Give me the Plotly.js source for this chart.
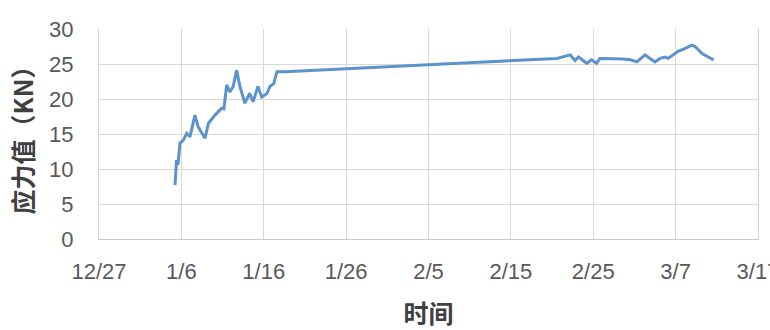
<!DOCTYPE html>
<html>
<head>
<meta charset="utf-8">
<script src="https://cdn.plot.ly/plotly-3.0.1.min.js"></script>
<style>
  html, body { margin: 0; padding: 0; background: #fff; }
  #chart { width: 770px; height: 330px; }
</style>
</head>
<body>
<div id="chart"></div>
<script>
// Measured stress readings over time (kN)
const times = [
  '2019-01-05 05:30', '2019-01-05 08:00', '2019-01-05 10:00', '2019-01-05 14:00',
  '2019-01-05 20:00', '2019-01-06 05:30', '2019-01-06 15:30', '2019-01-07 01:00',
  '2019-01-07 15:30', '2019-01-08 01:00', '2019-01-08 21:00', '2019-01-09 06:30',
  '2019-01-10 02:00', '2019-01-10 21:30', '2019-01-11 04:00', '2019-01-11 12:00',
  '2019-01-11 21:30', '2019-01-12 07:00', '2019-01-12 17:00', '2019-01-13 02:30',
  '2019-01-13 17:00', '2019-01-14 07:00', '2019-01-14 17:00', '2019-01-15 07:00',
  '2019-01-15 18:00', '2019-01-16 09:30', '2019-01-16 18:00', '2019-01-17 05:00',
  '2019-01-17 14:30', '2019-01-18 14:30', '2019-02-20 13:30', '2019-02-22 05:00',
  '2019-02-22 19:00', '2019-02-23 05:00', '2019-02-23 14:30', '2019-02-24 05:00',
  '2019-02-24 19:00', '2019-02-25 09:30', '2019-02-25 19:00', '2019-02-26 14:30',
  '2019-02-28 15:30', '2019-03-01 12:00', '2019-03-02 07:00', '2019-03-03 07:00',
  '2019-03-03 21:30', '2019-03-04 12:00', '2019-03-05 02:30', '2019-03-05 17:00',
  '2019-03-06 02:30', '2019-03-06 17:00', '2019-03-07 07:00', '2019-03-08 02:30',
  '2019-03-08 23:00', '2019-03-09 08:30', '2019-03-10 05:00', '2019-03-10 23:00',
  '2019-03-11 14:30'
];
const stress = [
  7.7, 9.4, 11.3, 10.6,
  13.7, 14.1, 15.1, 14.6,
  17.7, 16.0, 14.4, 16.5,
  17.7, 18.7, 18.6, 22.0,
  21.0, 21.8, 24.1, 21.8,
  19.4, 20.8, 19.6, 21.8,
  20.3, 20.8, 21.8, 22.2,
  23.9, 23.9, 25.8, 26.3,
  25.5, 26.0, 25.6, 25.1,
  25.6, 25.1, 25.8, 25.8,
  25.7, 25.6, 25.3, 26.3,
  25.8, 25.3, 25.8, 26.0,
  25.8, 26.3, 26.8, 27.2,
  27.7, 27.5, 26.5, 26.0,
  25.6
];

// Date axis ticks, every 10 days
const tickDates = ['2018-12-27', '2019-01-06', '2019-01-16', '2019-01-26', '2019-02-05',
                   '2019-02-15', '2019-02-25', '2019-03-07', '2019-03-17'];
const tickLabels = ['12/27', '1/6', '1/16', '1/26', '2/5', '2/15', '2/25', '3/7', '3/17'];

const yTicks = [0, 5, 10, 15, 20, 25, 30];

const gridColor = '#d9d9d9';
const tickFont = { family: 'Liberation Sans, Arial, sans-serif', size: 22, color: '#595959' };
const titleFont = { family: 'Noto Sans CJK SC, sans-serif', size: 25, color: '#404040', weight: 'bold' };

Plotly.newPlot('chart', [{
  x: times,
  y: stress,
  type: 'scatter',
  mode: 'lines',
  line: { color: '#5b93cd', width: 3 },
  hoverinfo: 'skip'
}], {
  width: 770,
  height: 330,
  margin: { l: 99, r: 12, t: 29, b: 91 },
  paper_bgcolor: '#ffffff',
  plot_bgcolor: '#ffffff',
  showlegend: false,
  xaxis: {
    type: 'date',
    range: ['2018-12-27', '2019-03-17'],
    tickmode: 'array',
    tickvals: tickDates,
    ticktext: tickLabels,
    ticklabeloverflow: 'allow',
    showgrid: true,
    gridcolor: gridColor,
    gridwidth: 1,
    showline: true,
    linecolor: '#c8c8c8',
    linewidth: 1,
    zeroline: false,
    ticks: 'outside',
    ticklen: 13,
    tickcolor: 'rgba(0,0,0,0)',
    tickfont: tickFont,
    title: { text: '时间', font: titleFont, standoff: 22 }
  },
  yaxis: {
    range: [0, 30],
    tickmode: 'array',
    tickvals: yTicks,
    showgrid: true,
    gridcolor: gridColor,
    gridwidth: 1,
    showline: true,
    mirror: true,
    linecolor: '#d0d0d0',
    linewidth: 1,
    zeroline: false,
    ticks: 'outside',
    ticklen: 20,
    tickcolor: 'rgba(0,0,0,0)',
    tickfont: tickFont,
    title: { text: '应力值（KN）', font: titleFont, standoff: 8 }
  }
}, { staticPlot: true, displayModeBar: false });
</script>
</body>
</html>
